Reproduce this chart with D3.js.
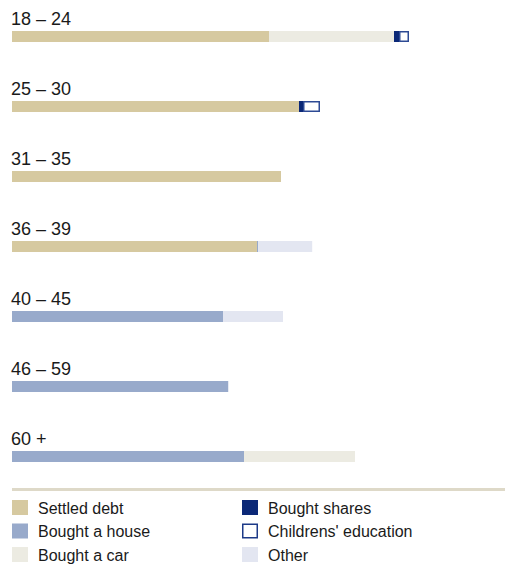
<!DOCTYPE html>
<html>
<head>
<meta charset="utf-8">
<script src="https://cdn.jsdelivr.net/npm/d3@7"></script>
<style>
  body { margin: 0; background: #fff; }
  text { font-family: "Liberation Sans", Arial, sans-serif; fill: #1a1a1a; }
</style>
</head>
<body>
<svg id="chart" width="505" height="566"></svg>
<script>
// age groups, top to bottom
var groups = ['18 – 24', '25 – 30', '31 – 35', '36 – 39', '40 – 45', '46 – 59', '60 +']

// series keys in stacking order
var keys = ['Settled debt', 'Bought a house', 'Bought a car', 'Bought shares', 'Childrens\' education', 'Other']

// share of respondents (%) per group
var settled   = [64.25, 71.75, 67.25, 61.25, 0, 0, 0]
var house     = [0, 0, 0, 0.3, 52.75, 54, 58]
var car       = [31.25, 0, 0, 0, 0, 0, 27.75]
var shares    = [1.25, 1, 0, 0, 0, 0, 0]
var education = [2.5, 4.25, 0, 0, 0, 0, 0]
var other     = [0, 0, 0, 13.5, 15, 0.2, 0]

var colors = {
    'Settled debt': '#d6c9a0',
    'Bought a house': '#98aacb',
    'Bought a car': '#ecebe2',
    'Bought shares': '#0b2877',
    'Childrens\' education': '#ffffff',
    'Other': '#e3e6f1'
}

var rows = groups.map(function(g, i) {
    return {
        group: g,
        'Settled debt': settled[i],
        'Bought a house': house[i],
        'Bought a car': car[i],
        'Bought shares': shares[i],
        'Childrens\' education': education[i],
        'Other': other[i]
    }
})

var svg = d3.select('#chart')

var x = d3.scaleLinear().domain([0, 100]).range([12, 412])
var y = d3.scaleBand().domain(groups).range([0, 490])

var barTop = 31, barH = 11

var series = d3.stack().keys(keys)(rows)

var g = svg.append('g')

series.forEach(function(s) {
    var isEdu = s.key == 'Childrens\' education'
    g.selectAll(null)
        .data(s.filter(function(d) { return d[1] - d[0] > 0 }))
        .enter()
        .append('rect')
        .attr('x', function(d) { return x(d[0]) + (isEdu ? 0.75 : 0) })
        .attr('y', function(d) { return y(d.data.group) + barTop + (isEdu ? 0.75 : 0) })
        .attr('width', function(d) { return x(d[1]) - x(d[0]) - (isEdu ? 1.5 : 0) })
        .attr('height', barH - (isEdu ? 1.5 : 0))
        .attr('fill', colors[s.key])
        .attr('stroke', isEdu ? '#2d4a94' : 'none')
        .attr('stroke-width', isEdu ? 1.5 : 0)
})

// group labels
svg.selectAll('text.group')
    .data(groups)
    .enter()
    .append('text')
    .attr('class', 'group')
    .attr('x', 11)
    .attr('y', function(d) { return y(d) + 25 })
    .attr('font-size', 18)
    .text(function(d) { return d })

// legend rule
svg.append('rect')
    .attr('x', 12).attr('y', 488)
    .attr('width', 493).attr('height', 3)
    .attr('fill', '#ded9c8')

var legend = svg.append('g')
var item = legend.selectAll('g')
    .data(keys)
    .enter()
    .append('g')
    .attr('transform', function(d, i) {
        var col = Math.floor(i / 3), r = i % 3
        return 'translate(' + (12 + col * 230) + ',' + (500 + r * 23.5) + ')'
    })

item.append('rect')
    .attr('x', function(d) { return d == 'Childrens\' education' ? 0.75 : 0 })
    .attr('y', function(d) { return d == 'Childrens\' education' ? 0.75 : 0 })
    .attr('width', function(d) { return d == 'Childrens\' education' ? 14.5 : 16 })
    .attr('height', function(d) { return d == 'Childrens\' education' ? 13.5 : 15 })
    .attr('fill', function(d) { return colors[d] })
    .attr('stroke', function(d) { return d == 'Childrens\' education' ? '#1d3a88' : 'none' })
    .attr('stroke-width', 1.5)

item.append('text')
    .attr('x', 26)
    .attr('y', 13.5)
    .attr('font-size', 16)
    .text(function(d) { return d })
</script>
</body>
</html>
